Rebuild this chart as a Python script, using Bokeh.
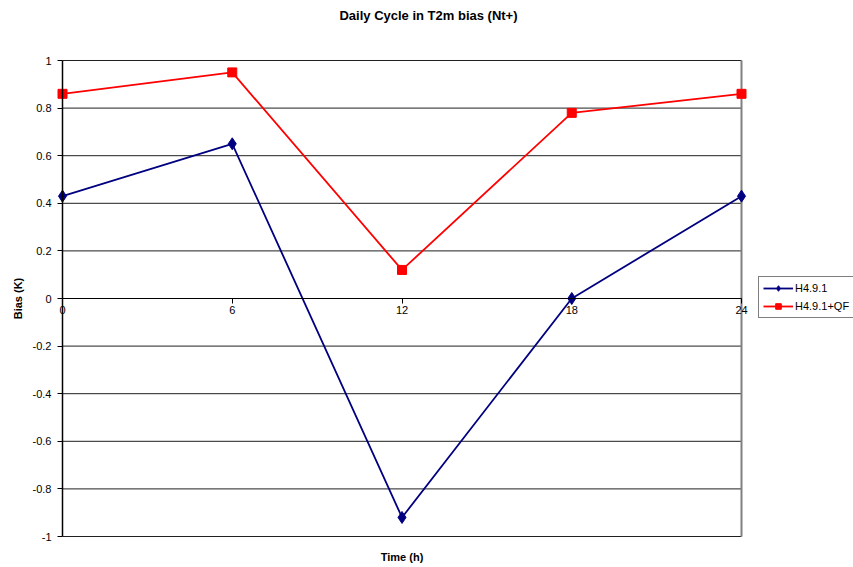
from bokeh.plotting import figure
from bokeh.models import (LinearAxis, FixedTicker, Legend, LegendItem, Label, Range1d)
from bokeh.embed import file_html
from bokeh.resources import INLINE

# ---- data ----
hours = [0, 6, 12, 18, 24]
h491 = [0.43, 0.65, -0.92, 0.0, 0.43]
h491_qf = [0.86, 0.95, 0.12, 0.78, 0.86]
series_names = ["H4.9.1", "H4.9.1+QF"]
x_ticks = [0, 6, 12, 18, 24]
y_ticks = [-1, -0.8, -0.6, -0.4, -0.2, 0, 0.2, 0.4, 0.6, 0.8, 1]
y_labels = ["-1", "-0.8", "-0.6", "-0.4", "-0.2", "0", "0.2", "0.4", "0.6", "0.8", "1"]

FONT = "Liberation Sans"
W, H = 853, 567
# plot area in pixels (left, right, top, bottom)
PL, PR, PT, PB = 62, 741, 60, 536
xmin, xmax = x_ticks[0], x_ticks[-1]
ymin, ymax = y_ticks[0], y_ticks[-1]
sx = (PR - PL) / (xmax - xmin)
sy = (PB - PT) / (ymax - ymin)


def dx(px):
    return xmin + (px - PL) / sx


def dy(py):
    return ymax - (py - PT) / sy


p = figure(width=W, height=H, output_backend="svg", toolbar_location=None,
           x_range=Range1d(dx(0), dx(W)), y_range=Range1d(dy(H), dy(0)),
           x_axis_location=None, y_axis_location=None,
           min_border=0)
p.background_fill_color = "white"
p.border_fill_color = "white"
p.outline_line_color = None
p.xgrid.grid_line_color = None
p.ygrid.grid_line_color = None

# grid lines across the plot area
p.segment(x0=xmin, x1=xmax, y0=y_ticks, y1=y_ticks, line_color="#202020", line_width=1)
# right border of the plot area (grey)
p.segment(x0=[xmax], x1=[xmax], y0=[ymin], y1=[ymax], line_color="#808080", line_width=2)

# y axis
yax = LinearAxis(ticker=FixedTicker(ticks=y_ticks), fixed_location=xmin,
                 bounds=(ymin, ymax),
                 major_label_overrides={v: s for v, s in zip(y_ticks, y_labels)},
                 major_label_text_font=FONT, major_label_text_font_size="11px",
                 major_label_text_color="black", major_label_standoff=6,
                 major_tick_in=0, major_tick_out=5, minor_tick_line_color=None,
                 axis_line_color="black", axis_line_width=1.5,
                 major_tick_line_color="black")
p.add_layout(yax, "left")

# x axis crossing at y = 0
xax = LinearAxis(ticker=FixedTicker(ticks=x_ticks), fixed_location=0,
                 bounds=(xmin, xmax),
                 major_label_text_font=FONT, major_label_text_font_size="11px",
                 major_label_text_color="black", major_label_standoff=2,
                 major_tick_in=0, major_tick_out=5, minor_tick_line_color=None,
                 axis_line_color="black", major_tick_line_color="black")
p.add_layout(xax, "below")

# series
l1 = p.line(hours, h491, line_color="#000080", line_width=1.8)
m1 = p.scatter(hours, h491, marker="diamond", size=12, fill_color="#000080",
               line_color="#000080")
l2 = p.line(hours, h491_qf, line_color="#FF0000", line_width=1.8)
m2 = p.scatter(hours, h491_qf, marker="square", size=9, fill_color="#FF0000",
               line_color="#FF0000")

# titles
p.add_layout(Label(x=dx(428), y=dy(15), text="Daily Cycle in T2m bias (Nt+)",
                   text_align="center", text_baseline="middle",
                   text_font=FONT, text_font_size="13px", text_font_style="bold",
                   text_color="black"))
p.add_layout(Label(x=(xmin + xmax) / 2, y=dy(556), text="Time (h)",
                   text_align="center", text_baseline="middle",
                   text_font=FONT, text_font_size="11px", text_font_style="bold",
                   text_color="black"))
p.add_layout(Label(x=dx(17), y=0, text="Bias (K)", angle=90, angle_units="deg",
                   text_align="center", text_baseline="middle",
                   text_font=FONT, text_font_size="11px", text_font_style="bold",
                   text_color="black"))

legend = Legend(items=[LegendItem(label=series_names[0], renderers=[l1, m1]),
                       LegendItem(label=series_names[1], renderers=[l2, m2])],
                location=(758, H - 318), orientation="vertical",
                label_text_font=FONT, label_text_font_size="11px",
                label_text_color="black", border_line_color="black",
                border_line_width=1, background_fill_color="white",
                background_fill_alpha=1, glyph_width=30, glyph_height=14,
                label_height=14, spacing=4, padding=4, margin=0,
                label_standoff=2)
p.add_layout(legend, "center")

open("out.html", "w").write(file_html(p, INLINE))
